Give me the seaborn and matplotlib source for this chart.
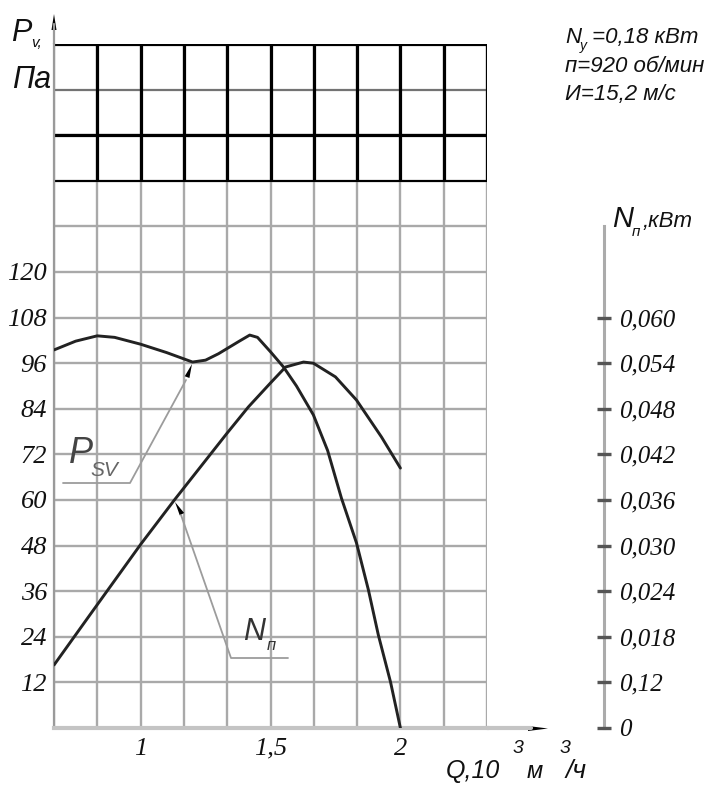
import numpy as np
import pandas as pd
import matplotlib
matplotlib.use("Agg")
import matplotlib.pyplot as plt
import seaborn as sns
from matplotlib.lines import Line2D
from matplotlib.patches import Polygon

# ---------------- data ----------------
q_pressure = [0.667, 0.75, 0.833, 0.90, 1.00, 1.10, 1.20, 1.25, 1.30, 1.38, 1.42,
              1.45, 1.50, 1.55, 1.60, 1.665, 1.72, 1.773, 1.831, 1.877, 1.915, 1.962, 2.00]
p_sv = [99.5, 101.8, 103.2, 102.8, 101.0, 98.8, 96.3, 96.8, 98.5, 101.8, 103.4,
        102.8, 99.0, 95.0, 90.0, 82.4, 73.0, 60.5, 48.7, 36.3, 24.5, 12.1, 0.0]

q_power = [0.667, 0.80, 0.90, 1.00, 1.13, 1.333, 1.415, 1.50, 1.558, 1.627,
           1.665, 1.75, 1.831, 1.927, 2.00]
n_power = [0.0083, 0.01465, 0.0194, 0.02415, 0.0300, 0.0388, 0.04225, 0.0454,
           0.0475, 0.04815, 0.0480, 0.0462, 0.04315, 0.0383, 0.0342]

x_grid = [4/6, 5/6, 1.0, 7/6, 8/6, 1.5, 10/6, 11/6, 2.0, 13/6, 14/6]
x_labels = ["", "", "1", "", "", "1,5", "", "", "2", "", ""]
p_ticks = list(range(0, 181, 12))
p_labels = ["", "12", "24", "36", "48", "60", "72", "84", "96", "108", "120", "", "", "", "", ""]
n_ticks = [0.0, 0.006, 0.012, 0.018, 0.024, 0.030, 0.036, 0.042, 0.048, 0.054, 0.060]
n_labels = ["0", "0,12", "0,018", "0,024", "0,030", "0,036", "0,042", "0,048",
            "0,054", "0,060"]

df_p = pd.DataFrame({"Q": q_pressure, "P": p_sv})
df_n = pd.DataFrame({"Q": q_power, "N": n_power})

# ---------------- style ----------------
sns.set_theme(style="white")
SANS = ["Liberation Sans", "DejaVu Sans"]
SERIF = ["Liberation Serif", "DejaVu Serif"]
plt.rcParams["font.family"] = SERIF

W, H = 724, 789
fig = plt.figure(figsize=(W / 100, H / 100), dpi=100)
fig.patch.set_facecolor("white")


def fx(x):
    return x / W


def fy(y):
    return 1 - y / H


ax = fig.add_axes([fx(54), fy(728), (487 - 54) / W, (728 - 44) / H])
ax.set_xlim(2/3, 7/3)
ax.set_ylim(0, 180)
ax.set_facecolor("none")

GRID = "#a9a9a9"
ax.set_xticks(x_grid)
ax.set_xticklabels(x_labels, fontsize=19, style="italic", family=SERIF)
ax.set_yticks(p_ticks)
ax.set_yticklabels(p_labels, fontsize=19, style="italic", family=SERIF)
ax.tick_params(axis="both", length=0, colors="#111")
ax.tick_params(axis="x", pad=7)
ax.tick_params(axis="y", pad=5)
ax.grid(True, color=GRID, lw=1.7)
ax.set_axisbelow(True)

# black upper block of the grid
ax.hlines([156, 180], 2/3, 7/3, color="black", lw=2.3, zorder=2)
ax.hlines([144], 2/3, 7/3, color="black", lw=1.5, zorder=2)
ax.hlines([168], 2/3, 7/3, color="#6e6e6e", lw=1.3, zorder=2)
ax.vlines(x_grid[1:], 144, 180, color="black", lw=2.3, zorder=2)

for s in ["top", "right"]:
    ax.spines[s].set_visible(False)
ax.spines["left"].set_color("#9a9a9a")
ax.spines["left"].set_linewidth(1.6)
ax.spines["bottom"].set_color("#c4c4c4")
ax.spines["bottom"].set_linewidth(3)

sns.lineplot(data=df_p, x="Q", y="P", ax=ax, color="#222222", lw=2.1, zorder=4)
ax.set_xlabel("")
ax.set_ylabel("")

# right axis (power)
ax2 = ax.twinx()
ax2.set_ylim(0, 180 / 2000)
sns.lineplot(data=df_n, x="Q", y="N", ax=ax2, color="#222222", lw=2.1, zorder=4)
ax2.set_xlabel("")
ax2.set_ylabel("")
for s in ["top", "left", "bottom"]:
    ax2.spines[s].set_visible(False)
ax2.spines["right"].set_position(("axes", (604 - 54) / (487 - 54)))
ax2.spines["right"].set_bounds(0, 0.066)
ax2.spines["right"].set_color("#ababab")
ax2.spines["right"].set_linewidth(2.2)
ax2.spines["right"].set_zorder(1)
ax2.yaxis.set_zorder(2)
ax2.set_yticks(n_ticks[:len(n_labels)])
ax2.set_yticklabels(n_labels, fontsize=18, style="italic", family=SERIF)
ax2.tick_params(axis="y", direction="inout", length=10, width=2.4, color="#555555",
                pad=6, labelcolor="#111")
ax2.grid(False)

# ---------------- axis extensions / arrows ----------------
def fline(xs, ys, **kw):
    fig.add_artist(Line2D([fx(v) for v in xs], [fy(v) for v in ys],
                          transform=fig.transFigure, **kw))


def fpoly(pts, **kw):
    fig.add_artist(Polygon([(fx(a), fy(b)) for a, b in pts], closed=True,
                           transform=fig.transFigure, **kw))


def arrowhead(tip, tail, length=13, width=5.5, color="black"):
    tx, ty = tip
    dx, dy = tail[0] - tx, tail[1] - ty
    n = np.hypot(dx, dy)
    ux, uy = dx / n, dy / n
    bx, by = tx + ux * length, ty + uy * length
    px_, py_ = -uy * width / 2, ux * width / 2
    fpoly([(tx, ty), (bx + px_, by + py_), (bx - px_, by - py_)], color=color, lw=0)


# x axis extension with arrow
fline([487, 531], [728, 728], color="#c4c4c4", lw=3)
arrowhead((548, 728.5), (520, 728.5), length=20, width=5)
# y axis extension with arrow
fline([54, 54], [44, 24], color="#9a9a9a", lw=1.6)
arrowhead((54, 14), (54, 40), length=16, width=5)

# ---------------- leader lines ----------------
LEAD = "#9c9c9c"
fline([63, 130, 186], [483, 483, 380], color=LEAD, lw=1.3)
arrowhead((192, 364), (186, 380), length=14, width=5)
fline([288, 231, 181], [658, 658, 515], color=LEAD, lw=1.3)
arrowhead((175, 502), (183, 516), length=14, width=5)


# ---------------- texts ----------------
def ftext(x, y, s, size, color="#111111", **kw):
    fig.text(fx(x), fy(y), s, fontsize=size, color=color, family=SANS,
             style="italic", va="baseline", ha="left", **kw)


# P_v, Па
ftext(11, 41, "P", 22)
ftext(31, 47, "v,", 11)
ftext(12, 88, "Па", 22)
# N_п, кВт
ftext(612, 227, "N", 21)
ftext(632, 236, "п", 11)
ftext(643, 227, ",кВт", 16)
# Q axis label
ftext(446, 778, "Q,10", 18)
ftext(513, 753, "3", 14)
ftext(527, 778, "м", 17)
ftext(560, 753, "3", 14)
ftext(566, 778, "/ч", 19)
# P_SV
ftext(69, 463, "P", 26, color="#444444")
ftext(90, 476, "SV", 15, color="#666666")
# N_п
ftext(243, 640, "N", 22, color="#333333")
ftext(267, 650, "п", 12, color="#333333")
# parameters block
ftext(565, 43, "N", 16)
ftext(580, 50, "у", 10)
ftext(586, 43, " =0,18 кВт", 16)
ftext(565, 72, "п=920 об/мин", 16)
ftext(565, 100, "И=15,2 м/с", 16)

fig.savefig("out.png", dpi=100, facecolor="white")
